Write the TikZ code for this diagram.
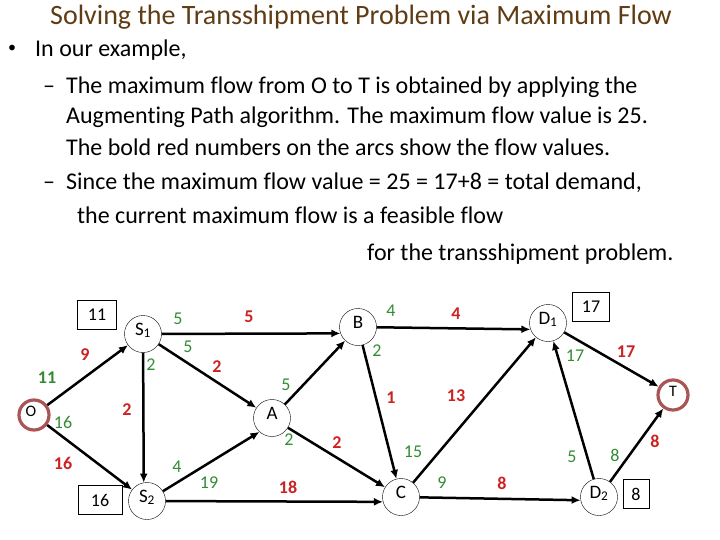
\documentclass[tikz,border=0pt]{standalone}
\usepackage{fontspec}
\setmainfont{Carlito}[Ligatures=NoCommon]
\usetikzlibrary{arrows.meta}
\definecolor{capgreen}{RGB}{51,140,51}
\definecolor{flowred}{RGB}{204,34,34}
\definecolor{ringred}{RGB}{170,85,85}
\definecolor{titlebrown}{RGB}{96,60,20}
\begin{document}
\begin{tikzpicture}[x=1pt, y=-1pt,
    vertex/.style={circle, draw, thin, minimum size=37pt, inner sep=0pt,
        font=\fontsize{19}{19}\selectfont, text height=10pt, text depth=8pt},
    endpt/.style={vertex, draw=ringred, line width=3.2pt, minimum size=30pt,
        font=\fontsize{16}{16}\selectfont, text height=8pt, text depth=6pt},
    supply/.style={draw, thin, minimum height=29pt, inner sep=0pt,
        font=\fontsize{18}{18}\selectfont},
    flowarc/.style={line width=2.5pt, -{Latex[length=9pt,width=8pt]}},
    capnum/.style={text=capgreen, font=\fontsize{18}{18}\selectfont},
    flownum/.style={text=flowred, font=\bfseries\fontsize{18}{18}\selectfont},
    bodytext/.style={anchor=base west, inner sep=0pt, font=\fontsize{24}{24}\selectfont}]
    \useasboundingbox (0,0) rectangle (720,540);

    % Title and text
    \node[anchor=base west, inner sep=0pt, text=titlebrown, font=\fontsize{28}{28}\selectfont] (title) at (50,25)
        {Solving the Transshipment Problem via Maximum Flow};
    \node[anchor=center, font=\fontsize{16}{16}\selectfont] (bullet) at (12,49) {\textbullet};
    \node[bodytext] (line1) at (35,57) {In our example,};
    \node[bodytext] (dash1) at (43,94) {\textendash};
    \node[bodytext] (line2) at (66,94) {The maximum flow from O to T is obtained by applying the};
    \node[bodytext] (line3) at (66,124) {Augmenting Path algorithm. The maximum flow value is 25.};
    \node[bodytext] (line4) at (66,156) {The bold red numbers on the arcs show the flow values.};
    \node[bodytext] (dash2) at (43,190) {\textendash};
    \node[bodytext] (line5) at (66,190) {Since the maximum flow value = 25 = 17+8 = total demand,};
    \node[bodytext] (line6) at (77,224) {the current maximum flow is a feasible flow};
    \node[bodytext] (line7) at (367,260) {for the transshipment problem.};

    % Nodes
    \node[endpt] (O) at (34,415) {\makebox[17pt][l]{O}};
    \node[vertex] (S1) at (143,334) {S\textsubscript{1}};
    \node[vertex] (S2) at (147,501) {S\textsubscript{2}};
    \node[vertex] (A) at (272,418) {A};
    \node[vertex] (B) at (358,327) {B};
    \node[vertex] (C) at (401,497) {C};
    \node[vertex] (D1) at (548,323) {D\textsubscript{1}};
    \node[vertex] (D2) at (599,497) {D\textsubscript{2}};
    \node[endpt] (T) at (673,395) {T};

    % Supplies and demands
    \node[supply, minimum width=39pt] (box11) at (97,315) {11};
    \node[supply, minimum width=44pt] (box16) at (100,500) {16};
    \node[supply, minimum width=37pt] (box17) at (591,307) {17};
    \node[supply, minimum width=26pt] (box8) at (636,494) {8};

    % Arcs
    \draw[flowarc] (O) -- (S1);
    \draw[flowarc] (O) -- (S2);
    \draw[flowarc] (S1) -- (S2.100);
    \draw[flowarc] (S1) -- (B.200);
    \draw[flowarc] (S1) -- (A);
    \draw[flowarc] (S2) -- (A.228);
    \draw[flowarc] (S2) -- (C.195);
    \draw[flowarc] (A) -- (B);
    \draw[flowarc] (A) -- (C);
    \draw[flowarc] (B) -- (D1.200);
    \draw[flowarc] (B) -- (C);
    \draw[flowarc] (C) -- (D1);
    \draw[flowarc] (C) -- (D2.190);
    \draw[flowarc] (D1) -- (T);
    \draw[flowarc] (D2) -- (D1);
    \draw[flowarc] (D2) -- (T);

    % Capacities (green)
    \foreach \x/\y/\v [count=\i] in {47/378/{\textbf{11}}, 63/422/16, 178/319/5, 188/347/5,
        151/365/2, 286/385/5, 289/440/2, 177/467/4, 209/483/19, 391/311/4, 377/351/2,
        413/452/15, 442/483/9, 575/356/17, 572/457/5, 615/455/8}
        \node[capnum] (cap\i) at (\x,\y) {\v};

    % Flow values (red)
    \foreach \x/\y/\v [count=\i] in {85/355/9, 63/463/16, 249/317/5, 217/367/2, 127/410/2,
        337/443/2, 288/487/18, 456/314/4, 391/398/1, 456/396/13, 502/483/8, 626/352/17, 655/441/8}
        \node[flownum] (flow\i) at (\x,\y) {\v};
\end{tikzpicture}
\end{document}
